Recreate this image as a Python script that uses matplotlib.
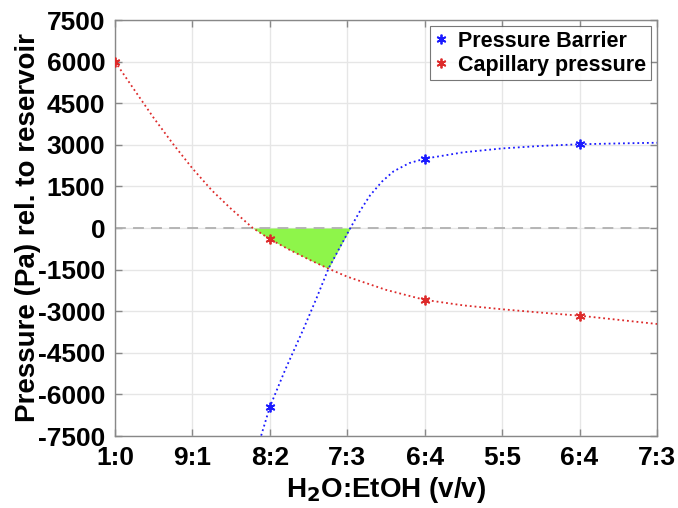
import numpy as np
import matplotlib
matplotlib.use("Agg")
import matplotlib.pyplot as plt

plt.rcParams['font.family'] = ['Liberation Sans', 'DejaVu Sans']
plt.rcParams['font.weight'] = 'bold'

# tick labels
x_ticks = [0, 1, 2, 3, 4, 5, 6, 7]
x_labels = ["1:0", "9:1", "8:2", "7:3", "6:4", "5:5", "6:4", "7:3"]
y_ticks = [-7500, -6000, -4500, -3000, -1500, 0, 1500, 3000, 4500, 6000, 7500]

# measured points (markers)
barrier_x = [2, 4, 6]
barrier_y = [-6450, 2500, 3020]
capillary_x = [0, 2, 4, 6]
capillary_y = [6000, -400, -2590, -3160]

# fitted curves
barrier_curve_x = [1.87, 2.0, 2.2, 2.433, 2.6, 2.757, 2.9, 3.04, 3.17, 3.295, 3.45, 3.596,
                   3.8, 4.0, 4.5, 5.0, 5.5, 6.0, 6.5, 7.0]
barrier_curve_y = [-7650, -6450, -5100, -3650, -2550, -1465, -720, 0, 640, 1180, 1680, 2040,
                   2340, 2500, 2730, 2870, 2960, 3020, 3050, 3075]
capillary_curve_x = [0, 0.25, 0.5, 0.75, 1.0, 1.25, 1.5, 1.78, 2.0, 2.25, 2.5, 2.757, 3.0,
                     3.5, 4.0, 4.5, 5.0, 5.5, 6.0, 6.5, 7.0]
capillary_curve_y = [6000, 4980, 3970, 3030, 2150, 1360, 690, 0, -400, -780, -1130, -1465, -1755,
                     -2230, -2590, -2790, -2930, -3050, -3160, -3310, -3460]

blue = '#1a1aff'
red = '#dd2a2a'
green = '#8ef54a'

fig = plt.figure(figsize=(6.78, 5.08), dpi=100)
ax = fig.add_axes([0.1696, 0.1417, 0.9690 - 0.1696, 0.9606 - 0.1417])

# green region
fx = np.linspace(min(capillary_curve_x), max(capillary_curve_x), 2000)
rc = np.interp(fx, capillary_curve_x, capillary_curve_y)
bc = np.interp(fx, barrier_curve_x, barrier_curve_y, left=-1e9)
low = np.maximum(rc, bc)
ax.fill_between(fx, low, 0, where=low < 0, color=green, linewidth=0, zorder=2)

ax.axhline(0, color='#b0b0b0', linestyle=(0, (6, 4)), linewidth=1.3, zorder=2.5)

ax.plot(barrier_curve_x, barrier_curve_y, linestyle=':', color=blue, linewidth=1.3, zorder=3)
ax.plot(capillary_curve_x, capillary_curve_y, linestyle=':', color=red, linewidth=1.3, zorder=3)
ax.plot(barrier_x, barrier_y, linestyle='none', marker=(6, 2, 0), color=blue, markersize=7,
        markeredgewidth=1.3, zorder=4, label='Pressure Barrier')
ax.plot(capillary_x, capillary_y, linestyle='none', marker=(6, 2, 0), color=red, markersize=7,
        markeredgewidth=1.3, zorder=4, label='Capillary pressure')

ax.set_xlim(0, 7)
ax.set_ylim(-7500, 7500)
ax.set_xticks(x_ticks)
ax.set_xticklabels(x_labels)
ax.set_yticks(y_ticks)
ax.set_yticklabels([str(v) for v in y_ticks])
ax.grid(True, color='#e6e6e6', linewidth=1.0, zorder=0)
ax.set_axisbelow(True)

for s in ax.spines.values():
    s.set_color('#888888')
    s.set_linewidth(1.0)
ax.tick_params(direction='in', length=5, width=1, color='#888888', top=True, right=True,
               labelsize=19)
ax.tick_params(axis='x', pad=7)
ax.tick_params(axis='y', pad=7)
for lab in ax.get_xticklabels() + ax.get_yticklabels():
    lab.set_fontweight('bold')

ax.set_xlabel('H$_\\mathbf{2}$O:EtOH (v/v)', fontsize=20, fontweight='bold', labelpad=4)
ax.set_ylabel('Pressure (Pa) rel. to reservoir', fontsize=20, fontweight='bold')
ax.yaxis.set_label_coords(-0.137, 0.5)

leg = ax.legend(loc='upper right', frameon=True, fancybox=False,
                borderpad=0.2, handlelength=0.6, handletextpad=0.5, labelspacing=0.15,
                borderaxespad=0.3, prop={'weight': 'bold', 'size': 15.5})
leg.get_frame().set_edgecolor('#555555')
leg.get_frame().set_linewidth(0.8)

fig.savefig('out.png', dpi=100)
